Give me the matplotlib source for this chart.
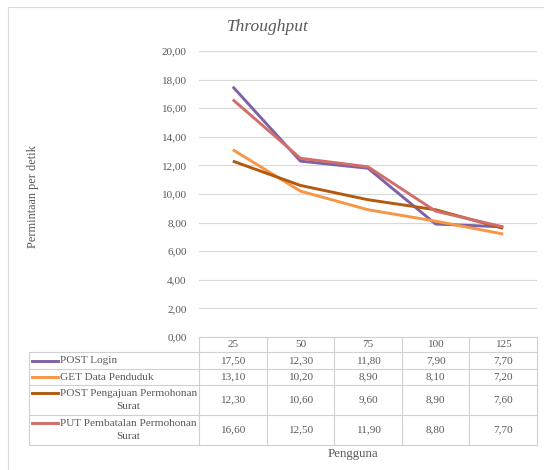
import matplotlib.pyplot as plt
from matplotlib.lines import Line2D
from matplotlib.patches import Rectangle

# data
pengguna = ['25', '50', '75', '100', '125']
series_names = ['POST Login', 'GET Data Penduduk', 'POST Pengajuan Permohonan\nSurat',
                'PUT Pembatalan Permohonan\nSurat']
post_login = [17.50, 12.30, 11.80, 7.90, 7.70]
get_penduduk = [13.10, 10.20, 8.90, 8.10, 7.20]
post_pengajuan = [12.30, 10.60, 9.60, 8.90, 7.60]
put_pembatalan = [16.60, 12.50, 11.90, 8.80, 7.70]
y_ticks = [0, 2, 4, 6, 8, 10, 12, 14, 16, 18, 20]

series = [post_login, get_penduduk, post_pengajuan, put_pembatalan]
colors = ['#7E62A6', '#F79646', '#B35A10', '#D06E6A']

plt.rcParams['font.family'] = ['Liberation Serif', 'DejaVu Serif']
txt = '#595959'
grid_c = '#D9D9D9'
fs = 8.1
W, H = 544, 470

fig = plt.figure(figsize=(W / 100, H / 100), dpi=100)


def fx(x):
    return x / W


def fy(y):
    return 1 - y / H


# chart border
fig.patches.append(Rectangle((fx(8), fy(490)), fx(560) - fx(8), fy(7) - fy(490),
                             transform=fig.transFigure, fill=False, ec=grid_c, lw=0.8))

# plot area (pixel geometry of the reference)
left, right, top, bottom = 199, 537, 51, 337
ax = fig.add_axes([fx(left), fy(bottom), fx(right) - fx(left), fy(top) - fy(bottom)])
x = list(range(len(pengguna)))
for vals, name, c in zip(series, series_names, colors):
    ax.plot(x, vals, color=c, lw=2.1, label=name, solid_capstyle='butt')
ax.set_xlim(-0.5, len(pengguna) - 0.5)
ax.set_ylim(0, 20)
ax.set_yticks(y_ticks)
ax.set_yticklabels([f'{v:.2f}'.replace('.', ',') for v in y_ticks], color=txt, fontsize=fs)
ax.tick_params(axis='y', length=0, pad=9)
ax.set_xticks([])
ax.grid(axis='y', color=grid_c, lw=0.8)
ax.set_axisbelow(True)
for s in ax.spines.values():
    s.set_visible(False)

fig.text(fx(268), fy(27), 'Throughput', fontsize=12.5, style='italic', color=txt,
         ha='center', va='center')
fig.text(fx(33), fy(197), 'Permintaan per detik', fontsize=8.8, color=txt,
         rotation=90, ha='center', va='center')
fig.text(fx(353), fy(454), 'Pengguna', fontsize=9.3, color=txt, ha='center', va='center')

# data table
tbl_c = '#D0D0D0'
col_edges = [left + i * (right - left) / len(pengguna) for i in range(len(pengguna) + 1)]
row_edges = [337, 352, 369, 385, 415, 445]
leg_left = 29


def hline(y, x0, x1):
    fig.add_artist(Line2D([fx(x0), fx(x1)], [fy(y), fy(y)], transform=fig.transFigure,
                          color=tbl_c, lw=0.8))


def vline(xp, y0, y1):
    fig.add_artist(Line2D([fx(xp), fx(xp)], [fy(y0), fy(y1)], transform=fig.transFigure,
                          color=tbl_c, lw=0.8))


hline(row_edges[0], col_edges[0], col_edges[-1])
for y in row_edges[1:]:
    hline(y, leg_left, col_edges[-1])
for xe in col_edges:
    vline(xe, row_edges[0], row_edges[-1])
vline(leg_left, row_edges[1], row_edges[-1])

for i, lab in enumerate(pengguna):
    cx = (col_edges[i] + col_edges[i + 1]) / 2
    fig.text(fx(cx), fy((row_edges[0] + row_edges[1]) / 2), lab, fontsize=fs,
             color=txt, ha='center', va='center')

for r, (vals, name, c) in enumerate(zip(series, series_names, colors)):
    y0, y1 = row_edges[r + 1], row_edges[r + 2]
    cy = (y0 + y1) / 2
    two = '\n' in name
    ky = y0 + 8 if two else cy
    fig.add_artist(Line2D([fx(32), fx(58)], [fy(ky), fy(ky)], transform=fig.transFigure,
                          color=c, lw=2.1))
    if two:
        fig.text(fx(60), fy(cy), name, fontsize=fs, color=txt, ha='left', va='center',
                 multialignment='center', linespacing=1.6)
    else:
        fig.text(fx(60), fy(cy), name, fontsize=fs, color=txt, ha='left', va='center')
    for i, v in enumerate(vals):
        cx = (col_edges[i] + col_edges[i + 1]) / 2
        fig.text(fx(cx), fy(cy), f'{v:.2f}'.replace('.', ','), fontsize=fs, color=txt,
                 ha='center', va='center')

fig.savefig('out.png', dpi=100)
